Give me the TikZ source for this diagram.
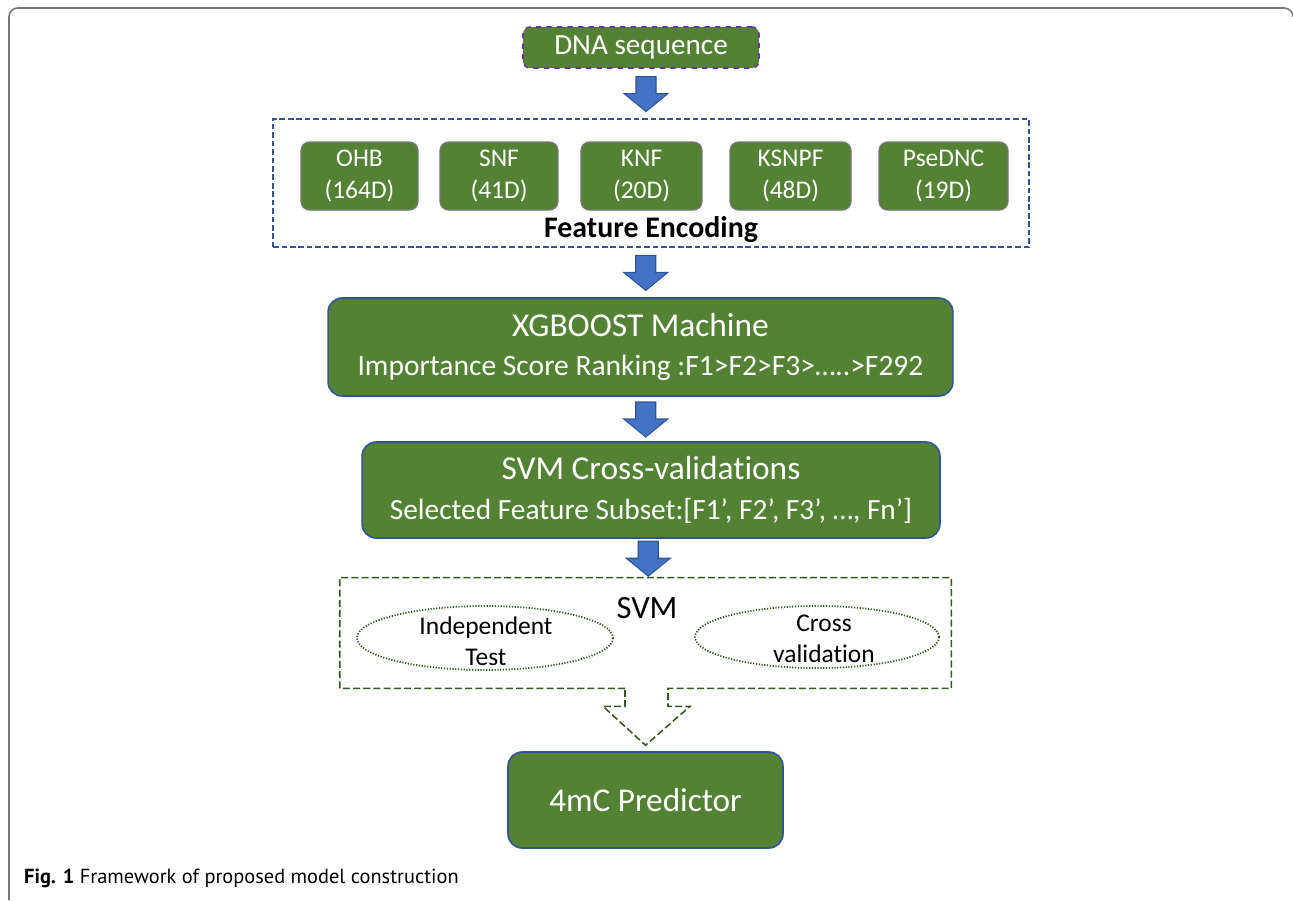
\documentclass[tikz,border=0pt]{standalone}
\usepackage{fontspec}
\setmainfont{Carlito}[Ligatures=NoCommon]
\newfontfamily\capfont{PT Sans}
\usetikzlibrary{calc}
\definecolor{grass}{RGB}{84, 130, 53}
\definecolor{forest}{RGB}{56, 87, 35}
\definecolor{navy}{RGB}{47, 85, 151}
\definecolor{sky}{RGB}{68, 114, 196}
\definecolor{plum}{RGB}{112, 48, 160}
\definecolor{ash}{RGB}{118, 118, 118}

\tikzset{
  greenbox/.style={fill=grass, draw=navy, line width=0.9pt, rounded corners=8pt,
                   text=white, align=center, inner sep=0pt},
  featbox/.style={fill=grass, draw=ash, line width=0.8pt, rounded corners=5pt,
                  text=white, align=center, inner sep=0pt, minimum height=1.36cm,
                  font=\fontsize{14.5}{18.5}\selectfont},
  testoval/.style={draw=forest, line width=1pt, dash pattern=on 0.7pt off 0.9pt},
  blockarrow/.style={fill=sky, draw=navy, line width=0.6pt, line join=miter},
}

% block arrow halfway between two nodes
\newcommand{\blockarr}[2]{%
  \filldraw[blockarrow] ($(#1.south)!0.5!(#2.north)$) ++(-10,-17) -- ++(20,0) -- ++(0,17)
    -- ++(12,0) -- ++(-22,18) -- ++(-22,-18) -- ++(12,0) -- cycle;}

\begin{document}
\begin{tikzpicture}[x=0.02cm, y=-0.02cm]
  \useasboundingbox (0,0) rectangle (1293,900);
  % outer frame
  \draw[ash, line width=0.9pt, rounded corners=5pt] (9,900) -- (9,8) -- (1293,8) -- (1293,14);

  % input
  \node[greenbox, draw=plum, dashed, rounded corners=4pt, minimum width=4.72cm, minimum height=0.82cm,
        font=\fontsize{16.6}{18}\selectfont] (dna) at (641,47.5) {DNA sequence};

  % feature encoding
  \node[draw=navy, line width=0.8pt, dash pattern=on 3.2pt off 1.6pt, minimum width=15.12cm,
        minimum height=2.56cm, inner sep=0pt] (enc) at (651,183) {};
  \node[featbox, minimum width=2.34cm] (ohb)    at (359.5,176) {OHB\\(164D)};
  \node[featbox, minimum width=2.36cm] (snf)    at (499,176)   {SNF\\(41D)};
  \node[featbox, minimum width=2.42cm] (knf)    at (641.5,176) {KNF\\(20D)};
  \node[featbox, minimum width=2.42cm] (ksnpf)  at (790.5,176) {KSNPF\\(48D)};
  \node[featbox, minimum width=2.58cm] (psednc) at (943.5,176) {PseDNC\\(19D)};
  \node[font=\fontsize{17}{20}\selectfont\bfseries] (enclabel) at (651,230) {Feature Encoding};

  % ranking
  \node[greenbox, minimum width=12.5cm, minimum height=1.96cm, font=\fontsize{16.8}{22.5}\selectfont] (xgb) at (640.5,347)
       {{\fontsize{19}{22.5}\selectfont XGBOOST Machine}\\Importance Score Ranking :F1>F2>F3>…..>F292};

  % selection
  \node[greenbox, minimum width=11.56cm, minimum height=1.92cm, font=\fontsize{16.7}{22.5}\selectfont] (svmcv) at (651,490)
       {{\fontsize{19}{22.5}\selectfont SVM Cross-validations}\\Selected Feature Subset:[F1’, F2’, F3’, …, Fn’]};

  % evaluation
  \node[minimum width=12.22cm, minimum height=2.2cm, inner sep=0pt] (svm) at (645.5,633) {};
  \node[font=\fontsize{18.5}{22}\selectfont] (svmlabel) at (647,608) {SVM};
  \draw[testoval] (485,638) ellipse (128 and 32);
  \node[align=center, font=\fontsize{14.5}{17.5}\selectfont] (indep) at (486,641) {Independent\\Test};
  \draw[testoval] (817,637) ellipse (122 and 31);
  \node[align=center, font=\fontsize{14.5}{17.5}\selectfont] (cross) at (824,639) {Cross\\validation};

  % predictor
  \node[greenbox, minimum width=5.5cm, minimum height=1.92cm, font=\fontsize{18.9}{22}\selectfont] (pred) at (645.5,800)
       {4mC Predictor};

  % connectors
  \blockarr{dna}{enc}
  \blockarr{enc}{xgb}
  \blockarr{xgb}{svmcv}
  \blockarr{svmcv}{svm}
  \draw[forest, line width=0.9pt, dash pattern=on 4pt off 1.8pt]
    ($(svm.south)+(-20.5,0)$) -- (svm.south west) -- (svm.north west) -- (svm.north east)
    -- (svm.south east) -- ($(svm.south)+(22.5,0)$) -- ++(0,18) -- ++(22,0)
    -- ($(pred.north)+(0,-6)$) -- ($(svm.south)+(-42.5,18)$) -- ++(22,0) -- cycle;

  % caption
  \node[anchor=west, font=\capfont\fontsize{11.6}{14}\selectfont] (caption) at (18,878)
       {\textbf{Fig. 1} Framework of proposed model construction};
\end{tikzpicture}
\end{document}
